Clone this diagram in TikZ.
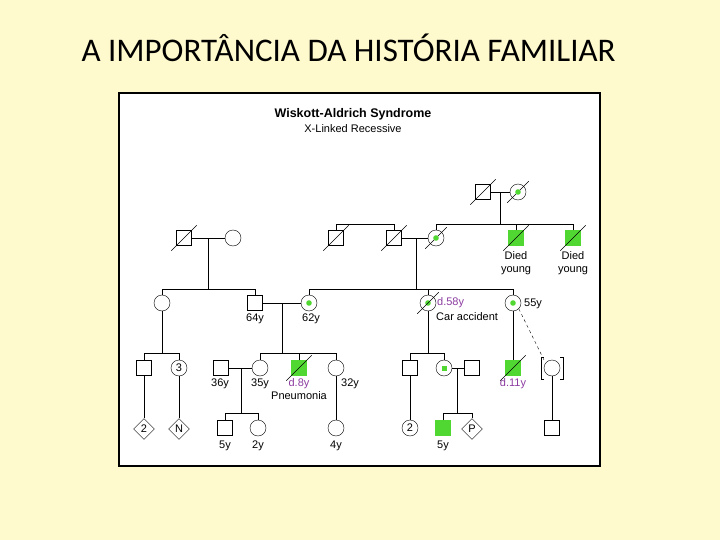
\documentclass[tikz,border=0pt]{standalone}
\usepackage{fontspec}
\setmainfont{Liberation Sans}
\newfontfamily\titlefont{Carlito}
\usetikzlibrary{shapes.geometric, positioning}
\definecolor{pagebg}{RGB}{255,250,205}
\definecolor{sick}{RGB}{80,215,50}
\definecolor{ageviolet}{RGB}{140,60,160}

\tikzset{
  male/.style={draw, rectangle, minimum size=15pt, inner sep=0pt},
  female/.style={draw, circle, minimum size=16pt, inner sep=0pt},
  unknown/.style={draw, diamond, minimum size=21pt, inner sep=0pt},
  affected/.style={fill=sick, draw=sick},
  lbl/.style={font=\fontsize{11}{13}\selectfont, inner sep=0pt},
  dlbl/.style={lbl, text=ageviolet},
}
\newcommand{\deceased}[1]{\draw ([shift={(-5pt,-5pt)}]#1.south west) -- ([shift={(5pt,5pt)}]#1.north east);}
\newcommand{\carrier}[1]{\fill[sick] (#1) circle (2.8pt);}

\begin{document}
\begin{tikzpicture}[x=1pt, y=-1pt]
  \useasboundingbox (0,0) rectangle (720,540);
  \fill[pagebg] (0,0) rectangle (720,540);

  % title and panel
  \node[font=\titlefont\fontsize{33}{38}\selectfont, anchor=west] (title) at (78,48) {A IMPORTÂNCIA DA HISTÓRIA FAMILIAR};
  \draw[fill=white, line width=2pt] (119,93) rectangle (600,466);
  \node[font=\bfseries\fontsize{12.5}{14}\selectfont] (syn) at (353,114) {Wiskott-Aldrich Syndrome};
  \node[font=\fontsize{11}{13}\selectfont] (xlr) at (353,129) {X-Linked Recessive};

  % generation I
  \node[male] (g1m) at (483,192) {};
  \node[female] (g1f) at (518,192) {};
  \deceased{g1m} \deceased{g1f} \carrier{g1f}

  % generation II
  \node[male] (pgf) at (184,238) {};
  \node[female] (pgm) at (233,238) {};
  \node[male] (uncle) at (336,238) {};
  \node[male] (mgf) at (394,238) {};
  \node[female] (mgm) at (436,238) {};
  \node[male, affected] (bro1) at (516,238) {};
  \node[male, affected] (bro2) at (573,238) {};
  \deceased{pgf} \deceased{uncle} \deceased{mgf} \deceased{mgm}
  \deceased{bro1} \deceased{bro2} \carrier{mgm}
  \node[lbl, align=center] (dy1) at (516,263) {Died\\young};
  \node[lbl, align=center] (dy2) at (573,263) {Died\\young};

  % generation III
  \node[female] (aunt) at (162,303) {};
  \node[male] (fa) at (255,303) {};
  \node[female] (mo) at (309,303) {};
  \node[female] (mst) at (428,303) {};
  \node[female] (mst2) at (513,303) {};
  \carrier{mo} \carrier{mst} \carrier{mst2} \deceased{mst}
  \node[lbl] at (255,319) {64y};
  \node[lbl] at (311,319) {62y};
  \node[dlbl, anchor=west] at (437,303) {d.58y};
  \node[lbl, anchor=west] at (436,317) {Car accident};
  \node[lbl, anchor=west] at (524,304) {55y};

  % generation IV
  \node[male] (c1) at (144,368) {};
  \node[female] (c2) at (179,368) {\fontsize{11}{13}\selectfont 3};
  \node[male] (sp1) at (221,368) {};
  \node[female] (sis) at (260,368) {};
  \node[male, affected] (prob) at (299,368) {};
  \node[female] (sis2) at (336,368) {};
  \node[male] (c3) at (410,368) {};
  \node[female] (c4) at (444,368) {};
  \node[male] (sp2) at (472,368) {};
  \node[male, affected] (c5) at (513,368) {};
  \node[female] (adopt) at (552,368) {};
  \deceased{prob} \deceased{c5}
  \fill[sick] ([shift={(-2.5pt,-2.5pt)}]c4.center) rectangle ([shift={(2.5pt,2.5pt)}]c4.center);
  \draw ([shift={(-8pt,-11pt)}]adopt.center) -- ++(-3pt,0) -- ++(0,22pt) -- ++(3pt,0);
  \draw ([shift={(8pt,-11pt)}]adopt.center) -- ++(3pt,0) -- ++(0,22pt) -- ++(-3pt,0);
  \coordinate (adoptin) at ([shift={(-8pt,8pt)}]adopt.center);
  \node[lbl] at (220,384) {36y};
  \node[lbl] at (260,384) {35y};
  \node[dlbl] at (299,384) {d.8y};
  \node[lbl] at (299,396) {Pneumonia};
  \node[lbl] at (350,384) {32y};
  \node[dlbl] at (513,384) {d.11y};

  % generation V
  \node[unknown] (d1) at (144,429) {\fontsize{11}{13}\selectfont 2};
  \node[unknown] (d2) at (179,429) {\fontsize{11}{13}\selectfont N};
  \node[male] (k1) at (225,428) {};
  \node[female] (k2) at (258,428) {};
  \node[female] (k3) at (336,428) {};
  \node[female] (k4) at (410,428) {\fontsize{11}{13}\selectfont 2};
  \node[male, affected] (k5) at (443,428) {};
  \node[unknown] (k6) at (472,429) {\fontsize{11}{13}\selectfont P};
  \node[male] (k7) at (552,428) {};
  \node[lbl] at (225,446) {5y};
  \node[lbl] at (258,446) {2y};
  \node[lbl] at (336,446) {4y};
  \node[lbl] at (443,446) {5y};

  % couples and descent lines
  \draw (g1m) -- (g1f);
  \draw (500,192) -- (500,224);
  \draw (mgm |- 0,224) -- (bro2 |- 0,224);
  \draw (mgm) -- (mgm |- 0,224);
  \draw (bro1) -- (bro1 |- 0,224);
  \draw (bro2) -- (bro2 |- 0,224);
  \draw (uncle) -- (uncle |- 0,224) -- (mgf |- 0,224) -- (mgf);
  \draw (pgf) -- (pgm);
  \draw (208,238) -- (208,289);
  \draw (aunt) -- (aunt |- 0,289) -- (fa |- 0,289) -- (fa);
  \draw (mgf) -- (mgm);
  \draw (416,238) -- (416,289);
  \draw (mo) -- (mo |- 0,289) -- (mst2 |- 0,289) -- (mst2);
  \draw (mst) -- (mst |- 0,289);
  \draw (fa) -- (mo);
  \draw (282,303) -- (282,353);
  \draw (aunt) -- (162,353);
  \draw (c1) -- (c1 |- 0,353) -- (c2 |- 0,353) -- (c2);
  \draw (sis) -- (sis |- 0,353) -- (sis2 |- 0,353) -- (sis2);
  \draw (prob) -- (prob |- 0,353);
  \draw (mst) -- (428,353);
  \draw (c3) -- (c3 |- 0,353) -- (c4 |- 0,353) -- (c4);
  \draw (mst2) -- (c5);
  \draw[dashed] (mst2.south east) -- (adoptin);
  \draw (sp1) -- (sis);
  \draw (241,368) -- (241,413);
  \draw (k1) -- (k1 |- 0,413) -- (k2 |- 0,413) -- (k2);
  \draw (sis2) -- (k3);
  \draw (c1) -- (d1);
  \draw (c2) -- (d2);
  \draw (c3) -- (k4);
  \draw (c4) -- (sp2);
  \draw (457,368) -- (457,413);
  \draw (k5) -- (k5 |- 0,413) -- (k6 |- 0,413) -- (k6);
  \draw (adopt) -- (k7);
\end{tikzpicture}
\end{document}
